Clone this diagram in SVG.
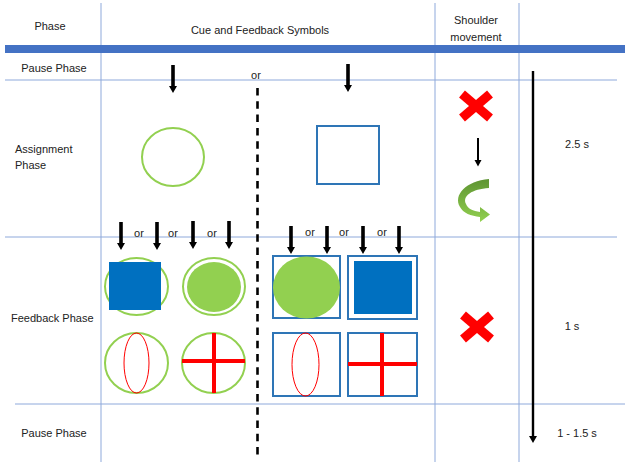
<svg xmlns="http://www.w3.org/2000/svg" width="630" height="465" viewBox="0 0 630 465">
<style>
text{font-family:"Liberation Sans",Arial,sans-serif;font-size:11px;fill:#222}
.grid{stroke:#8EA9DB;stroke-width:1;fill:none}
.gc{fill:none;stroke:#92D050;stroke-width:2}
.gf{fill:#92D050}
.bs{fill:none;stroke:#2E75B6;stroke-width:2}
.bf{fill:#0070C0}
.red{fill:none;stroke:#FF0000;stroke-width:1}
.redbar{stroke:#FF0000;stroke-width:4}
.x{stroke:#FF0000;stroke-width:9;stroke-linecap:butt}
</style>
<defs>
<path id="arr" d="M-1.8,0 H1.8 V21 H4 L0,28 L-4,21 H-1.8 Z" fill="#000"/>
<linearGradient id="gg" x1="0" y1="0" x2="0" y2="1">
<stop offset="0" stop-color="#5E9432"/>
<stop offset="1" stop-color="#92D050"/>
</linearGradient>
</defs>
<rect width="630" height="465" fill="#fff"/>
<g id="grid">
<line class="grid" x1="101" y1="3" x2="101" y2="462"/>
<line class="grid" x1="435" y1="3" x2="435" y2="462"/>
<line class="grid" x1="519" y1="3" x2="519" y2="462"/>
<line class="grid" x1="5" y1="80" x2="617" y2="80"/>
<line class="grid" x1="5" y1="237" x2="617" y2="237"/>
<line class="grid" x1="15" y1="404" x2="625" y2="404"/>
<rect x="5" y="45" width="620" height="8" fill="#4472C4"/>
</g>
<g id="headers">
<text x="50" y="30" text-anchor="middle">Phase</text>
<text x="260" y="34" text-anchor="middle">Cue and Feedback Symbols</text>
<text x="476" y="24" text-anchor="middle">Shoulder</text>
<text x="476" y="41" text-anchor="middle">movement</text>
</g>
<g id="phase-labels">
<text x="54" y="72" text-anchor="middle">Pause Phase</text>
<text x="15" y="153">Assignment</text>
<text x="15" y="169">Phase</text>
<text x="11" y="322">Feedback Phase</text>
<text x="54" y="437" text-anchor="middle">Pause Phase</text>
</g>
<g id="connectors">
<use href="#arr" x="173" y="65"/>
<use href="#arr" x="348" y="64"/>
<text x="256" y="79" text-anchor="middle">or</text>
<line x1="257.5" y1="88" x2="257.5" y2="458" stroke="#000" stroke-width="2.6" stroke-dasharray="7.5,5.8"/>
<use href="#arr" x="121" y="222"/>
<use href="#arr" x="157" y="222"/>
<use href="#arr" x="193" y="221"/>
<use href="#arr" x="229" y="221"/>
<text x="139" y="237" text-anchor="middle">or</text>
<text x="173" y="237" text-anchor="middle">or</text>
<text x="212" y="237" text-anchor="middle">or</text>
<use href="#arr" x="291" y="226"/>
<use href="#arr" x="327" y="226"/>
<use href="#arr" x="363" y="226"/>
<use href="#arr" x="399" y="226"/>
<text x="310" y="236" text-anchor="middle">or</text>
<text x="344" y="236" text-anchor="middle">or</text>
<text x="382" y="236" text-anchor="middle">or</text>
<path d="M477,138 H479 V160 H481.5 L478,166.5 L474.5,160 H477 Z" fill="#000"/>
<path d="M531.8,71 H534.2 V436 H537 L533,443 L529,436 H531.8 Z" fill="#000"/>
</g>
<g id="assign-circle"><ellipse class="gc" cx="173" cy="157" rx="31" ry="29"/></g>
<g id="assign-square"><rect class="bs" x="317" y="126" width="62" height="58"/></g>
<g id="fb-circle-square">
<ellipse class="gc" cx="136.5" cy="286.5" rx="31.5" ry="28.5"/>
<rect class="bf" x="109" y="262" width="52" height="48"/>
</g>
<g id="fb-circle-circle">
<ellipse class="gc" cx="214" cy="286.5" rx="31" ry="28.5"/>
<ellipse class="gf" cx="214" cy="287" rx="27" ry="25"/>
</g>
<g id="fb-circle-ellipse">
<ellipse class="gc" cx="136.5" cy="363" rx="31.5" ry="30"/>
<ellipse class="red" cx="136.5" cy="363" rx="12.5" ry="30"/>
</g>
<g id="fb-circle-cross">
<ellipse class="gc" cx="213.5" cy="363" rx="31.5" ry="30"/>
<line class="redbar" x1="182" y1="361" x2="245" y2="361"/>
<line class="redbar" x1="214" y1="333" x2="214" y2="393"/>
</g>
<g id="fb-square-circle">
<rect class="bs" x="273" y="256" width="67" height="62"/>
<ellipse class="gf" cx="306.5" cy="287.5" rx="33.5" ry="31"/>
</g>
<g id="fb-square-square">
<rect class="bs" x="348" y="256" width="69" height="63"/>
<rect class="bf" x="354" y="261" width="58" height="53"/>
</g>
<g id="fb-square-ellipse">
<rect class="bs" x="273" y="333" width="67" height="63"/>
<ellipse class="red" cx="305.5" cy="364.5" rx="13.5" ry="31.5"/>
</g>
<g id="fb-square-cross">
<rect class="bs" x="348" y="333" width="69" height="63"/>
<line class="redbar" x1="348" y1="364" x2="417" y2="364"/>
<line class="redbar" x1="382" y1="333" x2="382" y2="396"/>
</g>
<g id="shoulder-x1">
<line class="x" x1="462" y1="94" x2="490" y2="118"/>
<line class="x" x1="490" y1="94" x2="462" y2="118"/>
</g>
<g id="shoulder-rotate">
<path d="M489,179 V188 C472,189 462,196 466,204 C468,209 473,211 480,212 V207 L490,214.5 L480,222 V217 C471,216 463,213 460,207 C453,195 466,181 489,179 Z" fill="url(#gg)"/>
</g>
<g id="shoulder-x2">
<line class="x" x1="463" y1="315" x2="491" y2="339"/>
<line class="x" x1="491" y1="315" x2="463" y2="339"/>
</g>
<g id="durations">
<text x="577" y="148" text-anchor="middle">2.5 s</text>
<text x="572" y="330" text-anchor="middle">1 s</text>
<text x="577" y="437" text-anchor="middle">1 - 1.5 s</text>
</g>
</svg>
